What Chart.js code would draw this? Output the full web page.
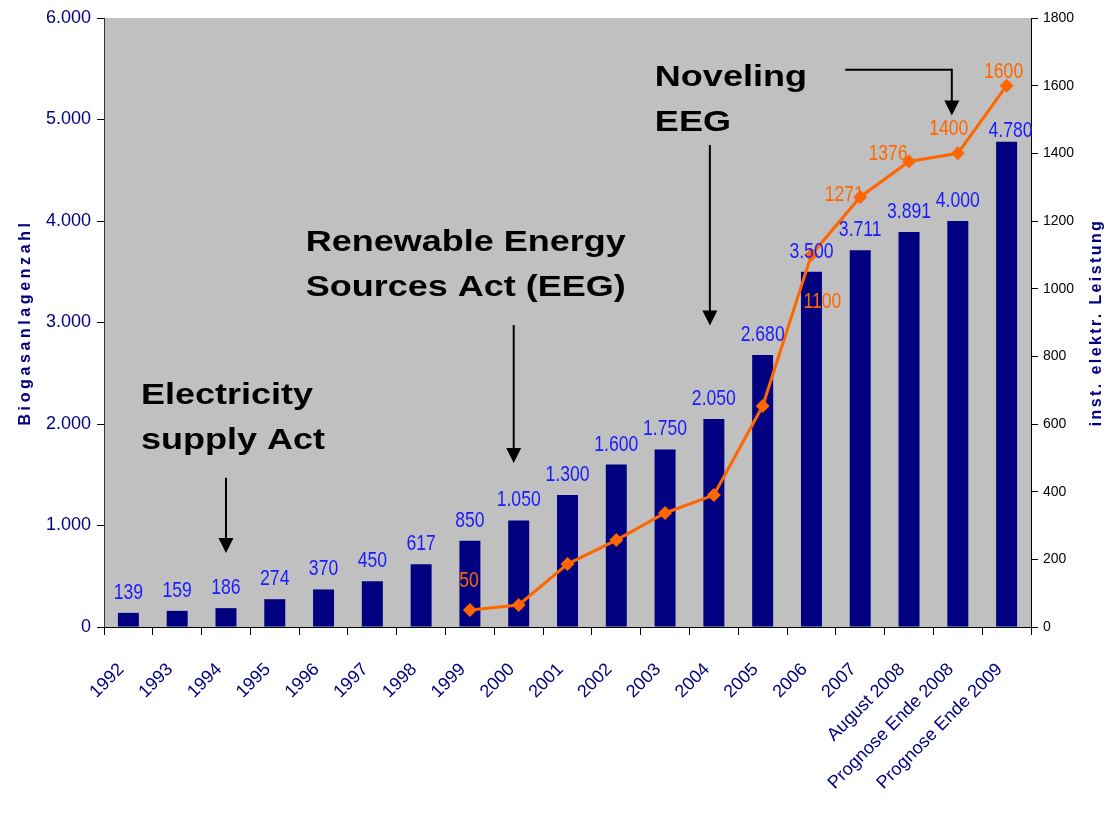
<!DOCTYPE html>
<html>
<head>
<meta charset="utf-8">
<title>Biogasanlagen</title>
<script src="https://cdn.jsdelivr.net/npm/chart.js@4.4.0/dist/chart.umd.min.js"></script>
<style>
  body { margin: 0; background: #fff; }
</style>
</head>
<body>
<canvas id="chart" width="1117" height="814"></canvas>
<script>
const categories = ['1992', '1993', '1994', '1995', '1996', '1997', '1998', '1999', '2000', '2001', '2002',
  '2003', '2004', '2005', '2006', '2007', 'August 2008', 'Prognose Ende 2008', 'Prognose Ende 2009'];
const plantCounts = [139, 159, 186, 274, 370, 450, 617, 850, 1050, 1300, 1600, 1750, 2050, 2680, 3500, 3711, 3891, 4000, 4780];
const installedPower = [null, null, null, null, null, null, null, 50, 65, 186, 257, 337, 390, 653, 1100, 1271, 1376, 1400, 1600];
const countTicks = [0, 1000, 2000, 3000, 4000, 5000, 6000];
const powerTicks = [0, 200, 400, 600, 800, 1000, 1200, 1400, 1600, 1800];

const FONT = '"Liberation Sans", Arial, sans-serif';
const NAVY = '#000080';
const ORANGE = '#ff6600';

// 1050 -> "1.050"
const fmt = v => String(v).replace(/\B(?=(\d{3})+(?!\d))/g, '.');

function scaledText(ctx, text, x, y, sx) {
  ctx.save();
  ctx.translate(x, y);
  ctx.scale(sx, 1);
  ctx.fillText(text, 0, 0);
  ctx.restore();
}

const plotBackground = {
  id: 'plotBackground',
  beforeDraw(chart) {
    const { ctx, chartArea: a } = chart;
    ctx.save();
    ctx.fillStyle = '#c0c0c0';
    ctx.fillRect(a.left, a.top, a.right - a.left, a.bottom - a.top);
    ctx.restore();
  }
};

const valueLabels = {
  id: 'valueLabels',
  afterDatasetsDraw(chart) {
    const ctx = chart.ctx;
    ctx.save();
    ctx.font = '22px ' + FONT;
    ctx.textAlign = 'center';
    ctx.textBaseline = 'alphabetic';
    ctx.fillStyle = '#1a1aff';
    chart.getDatasetMeta(0).data.forEach((bar, i) => {
      const lift = i === plantCounts.length - 1 ? 5 : 14;
      const dx = i === plantCounts.length - 1 ? 4 : 0;
      scaledText(ctx, fmt(plantCounts[i]), bar.x + dx, bar.y - lift, 0.8);
    });
    // only some points of the line carry a label, each nudged like in the original
    const offs = { 7: [-1, -23], 14: [11, 53], 15: [-16, 4], 16: [-21, -1], 17: [-9, -18], 18: [-3, -8] };
    ctx.fillStyle = ORANGE;
    chart.getDatasetMeta(1).data.forEach((pt, i) => {
      const o = offs[i];
      if (!o) return;
      scaledText(ctx, String(installedPower[i]), pt.x + o[0], pt.y + o[1], 0.8);
    });
    ctx.restore();
  }
};

function arrowDown(ctx, x, y0, y1) {
  ctx.beginPath();
  ctx.moveTo(x, y0);
  ctx.lineTo(x, y1 - 14);
  ctx.stroke();
  ctx.beginPath();
  ctx.moveTo(x, y1);
  ctx.lineTo(x - 7.5, y1 - 15);
  ctx.lineTo(x + 7.5, y1 - 15);
  ctx.closePath();
  ctx.fill();
}

const annotations = {
  id: 'annotations',
  afterDraw(chart) {
    const { ctx, scales } = chart;
    const x = scales.x, y = scales.y;
    const notes = [
      { text: ['Electricity', 'supply Act'], cat: 2, dx: -85, at: 2200, arrow: [0, 1470, 730] },
      { text: ['Renewable Energy', 'Sources Act (EEG)'], cat: 8, dx: -213, at: 3700, arrow: [-5, 2975, 1616] },
      { text: ['Noveling', 'EEG'], cat: 12, dx: -59, at: 5330, arrow: [-4, 4749, 2970] }
    ];
    ctx.save();
    ctx.fillStyle = '#000';
    ctx.strokeStyle = '#000';
    ctx.lineWidth = 2;
    ctx.font = 'bold 30px ' + FONT;
    ctx.textAlign = 'left';
    ctx.textBaseline = 'alphabetic';
    notes.forEach(n => {
      const cx = x.getPixelForValue(n.cat);
      const base = y.getPixelForValue(n.at);
      n.text.forEach((t, k) => scaledText(ctx, t, cx + n.dx, base + k * 45, 1.2));
      arrowDown(ctx, cx + n.arrow[0], y.getPixelForValue(n.arrow[1]), y.getPixelForValue(n.arrow[2]));
    });
    // elbow arrow pointing at the 2008 forecast
    const ex0 = x.getPixelForValue(15) - 15;
    const ex1 = x.getPixelForValue(17) - 6;
    const ey = y.getPixelForValue(5490);
    ctx.beginPath();
    ctx.moveTo(ex0, ey);
    ctx.lineTo(ex1, ey);
    ctx.stroke();
    arrowDown(ctx, ex1, ey - 1, y.getPixelForValue(5040));

    // axis titles
    const a = chart.chartArea;
    ctx.fillStyle = NAVY;
    ctx.font = 'bold 16px ' + FONT;
    ctx.textAlign = 'center';
    ctx.textBaseline = 'middle';
    ctx.letterSpacing = '3.6px';
    ctx.save();
    ctx.translate(26, (a.top + a.bottom) / 2);
    ctx.rotate(-Math.PI / 2);
    ctx.fillText('Biogasanlagenzahl', 0, 0);
    ctx.restore();
    ctx.letterSpacing = '2.4px';
    ctx.save();
    ctx.translate(1097, (a.top + a.bottom) / 2);
    ctx.rotate(-Math.PI / 2);
    ctx.fillText('inst. elektr. Leistung', 0, 0);
    ctx.restore();
    ctx.restore();
  }
};

new Chart(document.getElementById('chart'), {
  type: 'bar',
  data: {
    labels: categories,
    datasets: [
      {
        label: 'Biogasanlagenzahl',
        data: plantCounts,
        backgroundColor: NAVY,
        borderWidth: 0,
        barPercentage: 0.43,
        categoryPercentage: 1.0,
        yAxisID: 'y',
        order: 2
      },
      {
        type: 'line',
        label: 'inst. elektr. Leistung',
        data: installedPower,
        borderColor: ORANGE,
        backgroundColor: ORANGE,
        borderWidth: 3,
        pointStyle: 'rectRot',
        pointRadius: 7,
        pointBorderWidth: 0,
        pointBackgroundColor: ORANGE,
        tension: 0,
        spanGaps: false,
        yAxisID: 'y1',
        order: 1
      }
    ]
  },
  options: {
    responsive: false,
    animation: false,
    events: [],
    layout: { padding: { top: 18, left: 0, right: 0, bottom: 0 } },
    plugins: {
      legend: { display: false },
      tooltip: { enabled: false }
    },
    scales: {
      x: {
        offset: true,
        grid: { offset: true, drawOnChartArea: false, tickLength: 8, color: '#000' },
        border: { color: '#000', width: 1 },
        ticks: {
          color: NAVY,
          font: { family: FONT, size: 18 },
          maxRotation: 45,
          minRotation: 45,
          autoSkip: false,
          padding: 24,
          labelOffset: -7
        },
        afterFit(s) { s.height = 187; }
      },
      y: {
        position: 'left',
        min: countTicks[0],
        max: countTicks[countTicks.length - 1],
        afterBuildTicks(s) { s.ticks = countTicks.map(v => ({ value: v })); },
        grid: { drawOnChartArea: false, tickLength: 7, color: '#000' },
        border: { color: '#333', width: 1 },
        ticks: { color: NAVY, font: { family: FONT, size: 18 }, padding: 6, callback: v => fmt(v) },
        afterFit(s) { s.width = 104; }
      },
      y1: {
        position: 'right',
        min: powerTicks[0],
        max: powerTicks[powerTicks.length - 1],
        afterBuildTicks(s) { s.ticks = powerTicks.map(v => ({ value: v })); },
        grid: { drawOnChartArea: false, tickLength: 7, color: '#000' },
        border: { color: '#000', width: 1 },
        ticks: { color: '#000', font: { family: FONT, size: 14 }, padding: 5, callback: v => String(v) },
        afterFit(s) { s.width = 86; }
      }
    }
  },
  plugins: [plotBackground, valueLabels, annotations]
});
</script>
</body>
</html>
